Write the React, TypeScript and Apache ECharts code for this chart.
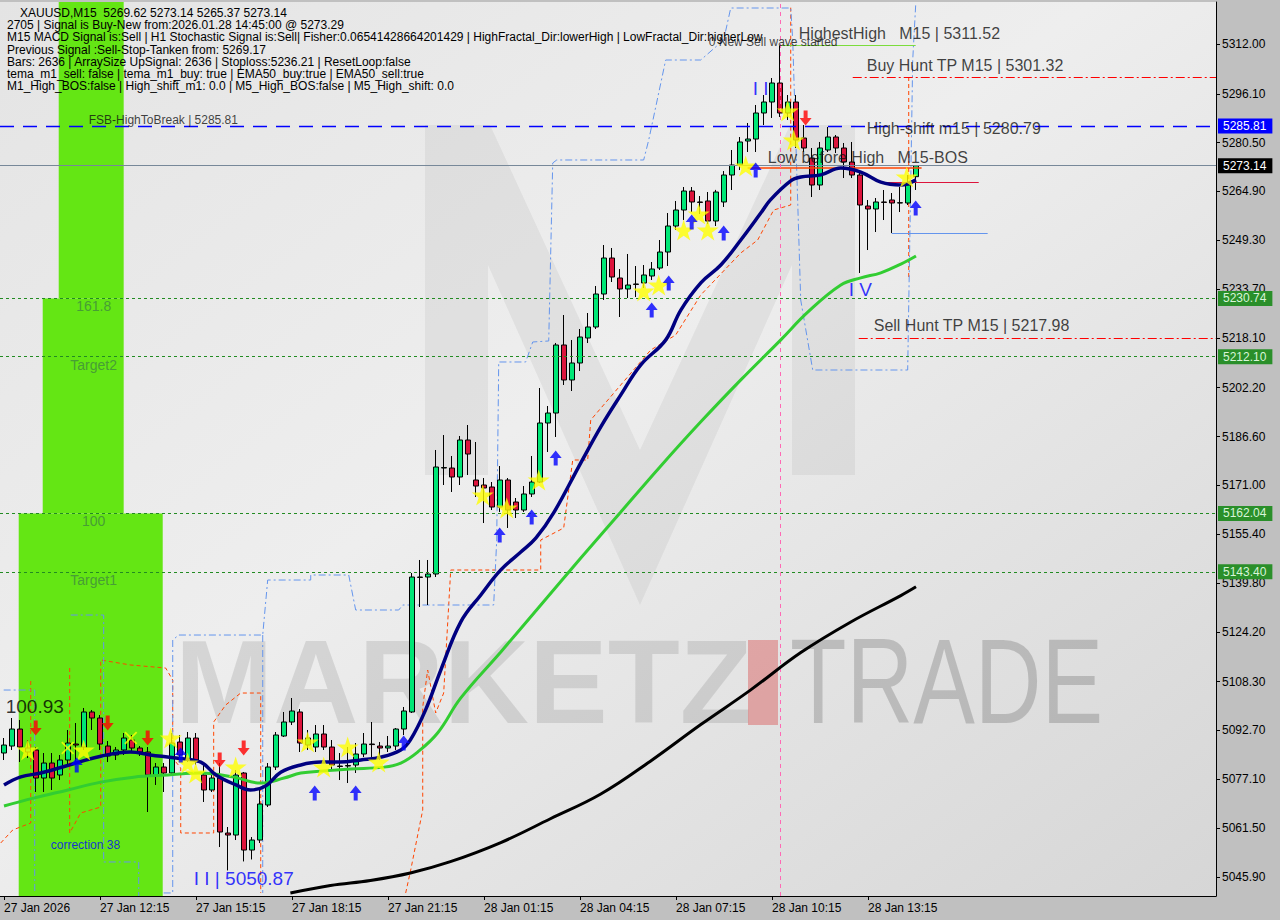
import React, { useEffect, useRef } from 'react';
import * as echarts from 'echarts';

const FONT = '"Liberation Sans", Arial, sans-serif';

// ---- candles (27 Jan 09:15 .. 28 Jan 14:45, M15) ----
const opens = [5085.51,5087.74,5093.17,5085.83,5086.47,5077.52,5082.31,5078.48,5083.27,5088.38,5087.42,5098.61,5096.69,5087.74,5084.87,5086.47,5089.66,5087.10,5085.83,5078.48,5081.03,5079.12,5089.02,5083.27,5090.30,5078.48,5073.69,5077.52,5059.95,5059.31,5079.12,5054.51,5057.71,5068.90,5081.03,5090.94,5095.41,5098.61,5088.06,5087.42,5091.58,5087.42,5081.35,5081.35,5081.67,5085.19,5088.38,5087.74,5087.10,5087.74,5093.17,5098.61,5141.73,5141.73,5142.69,5176.55,5176.55,5173.68,5185.50,5172.72,5171.12,5170.49,5164.09,5172.72,5165.69,5163.13,5168.25,5172.08,5190.93,5194.12,5215.85,5204.67,5210.10,5218.08,5221.60,5232.14,5243.64,5237.25,5233.74,5235.33,5235.65,5237.89,5240.44,5245.55,5253.86,5258.97,5265.04,5261.53,5261.85,5255.46,5261.53,5270.15,5273.35,5281.01,5281.65,5289.96,5293.47,5299.54,5289.96,5293.47,5281.97,5275.59,5266.96,5278.14,5282.29,5278.78,5274.31,5270.15,5260.25,5259.29,5261.53,5262.17,5261.21,5261.21,5269.62];
const closes = [5088.06,5093.17,5087.42,5087.10,5077.52,5082.31,5077.52,5083.27,5088.70,5088.06,5098.61,5096.69,5088.38,5084.55,5086.47,5090.30,5087.10,5085.83,5078.48,5081.03,5079.12,5088.70,5084.87,5090.30,5083.27,5073.69,5077.52,5060.27,5059.31,5078.48,5054.51,5057.71,5069.22,5081.03,5091.26,5095.41,5098.93,5088.70,5090.30,5091.58,5087.42,5081.67,5081.20,5081.50,5085.19,5088.38,5088.20,5087.10,5087.74,5093.17,5098.93,5141.73,5141.60,5142.69,5176.87,5176.70,5173.68,5185.50,5181.02,5170.80,5170.17,5164.09,5172.72,5163.13,5163.13,5168.25,5172.08,5190.93,5194.12,5215.85,5204.67,5210.10,5218.40,5221.60,5232.14,5243.64,5237.57,5233.74,5235.01,5235.20,5238.21,5240.12,5245.55,5253.86,5258.97,5265.04,5261.53,5261.40,5255.46,5264.72,5270.15,5273.35,5280.70,5281.65,5289.96,5293.47,5299.54,5289.96,5293.47,5281.33,5278.78,5266.96,5278.78,5282.29,5278.78,5274.31,5270.15,5260.57,5259.29,5261.53,5261.40,5261.21,5261.30,5266.96,5273.14];
const lows = [5083.27,5086.47,5082.63,5083.91,5073.05,5073.05,5073.69,5076.88,5081.67,5082.31,5086.47,5092.86,5086.47,5082.63,5083.27,5084.87,5085.83,5084.55,5066.66,5075.29,5073.05,5078.48,5083.27,5082.63,5081.67,5069.86,5073.05,5055.47,5048.00,5057.71,5050.87,5051.50,5056.75,5068.26,5080.08,5090.62,5094.45,5085.83,5086.47,5085.83,5086.47,5080.08,5076.88,5075.92,5079.12,5084.23,5084.23,5083.27,5085.83,5086.47,5091.26,5098.29,5132.15,5132.79,5141.73,5171.12,5168.89,5171.12,5174.32,5167.29,5158.98,5163.13,5162.50,5157.39,5160.58,5162.50,5167.29,5171.76,5181.67,5186.46,5203.07,5201.15,5207.54,5216.48,5220.96,5230.22,5235.97,5224.79,5230.86,5231.18,5234.06,5236.61,5239.81,5241.08,5252.58,5255.77,5258.33,5257.69,5254.50,5253.86,5259.93,5265.36,5271.74,5277.50,5277.50,5286.12,5288.37,5288.69,5287.73,5278.78,5277.50,5263.12,5265.36,5277.50,5277.18,5269.19,5269.19,5238.85,5246.19,5251.94,5255.77,5251.63,5258.33,5260.57,5265.37];
const highs = [5090.30,5096.69,5096.05,5089.66,5087.42,5085.51,5085.51,5084.87,5092.86,5095.09,5099.89,5099.25,5097.65,5089.34,5087.42,5091.90,5091.26,5087.74,5087.42,5082.31,5082.31,5091.90,5091.26,5092.22,5091.90,5081.67,5079.44,5082.31,5061.87,5080.08,5079.44,5058.67,5073.69,5082.31,5092.22,5098.61,5103.08,5099.57,5092.86,5094.45,5094.45,5089.66,5085.51,5087.42,5088.70,5091.90,5095.41,5089.02,5090.94,5093.49,5100.21,5143.01,5147.17,5147.17,5182.31,5187.09,5180.39,5186.78,5190.29,5184.86,5173.36,5172.08,5177.19,5173.36,5166.97,5170.80,5180.39,5202.11,5196.36,5216.50,5225.43,5217.44,5220.96,5226.07,5234.70,5247.79,5246.83,5240.12,5244.92,5241.08,5241.40,5242.36,5249.39,5258.01,5261.85,5266.32,5266.32,5263.44,5264.72,5265.40,5271.42,5278.14,5282.29,5286.77,5292.52,5295.71,5301.14,5311.52,5295.71,5295.71,5286.12,5278.78,5280.70,5285.49,5282.93,5280.38,5280.70,5271.74,5262.17,5262.80,5265.36,5264.40,5266.32,5270.15,5273.14];

const SLOT_COUNT = 152;
const tickIndex = [0, 12, 24, 36, 48, 60, 72, 84, 96, 108];
const tickText = ['27 Jan 2026','27 Jan 12:15','27 Jan 15:15','27 Jan 18:15','27 Jan 21:15','28 Jan 01:15','28 Jan 04:15','28 Jan 07:15','28 Jan 10:15','28 Jan 13:15'];
const yTicks = [5045.9,5061.5,5077.1,5092.7,5108.3,5124.2,5139.8,5155.4,5171.0,5186.6,5202.2,5218.1,5233.7,5249.3,5264.9,5280.5,5296.1,5312.0];
const Y_MIN = 5039.83;
const Y_MAX = 5325.42;

// ---- indicator lines [barIndex, price] ----
const navyEma = [[0,5075.3],[2.1,5077.9],[4.6,5079.1],[9,5082.3],[12.1,5084.5],[15.8,5085.8],[18.3,5084.9],[21.5,5083.9],[24.6,5082.6],[26.5,5078.5],[29,5075.3],[30.8,5073.7],[32.7,5075.0],[34.6,5079.4],[37.1,5081.7],[39.6,5082.6],[42,5082.6],[44.6,5083.3],[47.1,5084.2],[49.6,5086.5],[50.8,5089.7],[52.7,5099.3],[54.6,5112.0],[57.1,5127.4],[59.6,5136.0],[62.1,5144.0],[64.6,5149.7],[66.5,5154.2],[68.7,5162.2],[72.1,5178.2],[74.6,5189.7],[77.1,5199.9],[79.6,5209.5],[82.7,5217.4],[84.6,5227.0],[87.1,5235.7],[89.6,5241.4],[92.1,5249.4],[94.6,5258.0],[95.8,5262.2],[98.3,5268.2],[99.6,5269.5],[102.1,5270.2],[104.6,5272.4],[107.1,5271.1],[109.6,5267.9],[112.1,5267.0],[114,5268.6]];
const greenEma = [[0,5068.6],[3.7,5071.1],[8,5073.7],[12.1,5076.2],[16.2,5077.8],[20.5,5078.5],[24.6,5079.1],[28.7,5077.8],[32.1,5075.9],[35,5077.5],[37.1,5079.1],[40,5079.8],[43.3,5080.4],[47.5,5081.0],[49.6,5082.3],[51.7,5085.8],[54.2,5091.9],[57.1,5103.1],[62.1,5117.8],[67.1,5132.8],[72.1,5147.8],[77.1,5162.5],[82.1,5177.2],[87.1,5191.3],[92.1,5204.7],[97.1,5217.5],[100.5,5226.4],[104.6,5235.0],[107.1,5237.3],[109.6,5238.9],[112.1,5241.7],[114,5244.3]];
const blackEma = [[35.8,5040.8],[40.8,5043.2],[45.8,5044.8],[50.8,5047.2],[55.8,5050.8],[62.1,5056.9],[68.3,5064.5],[74.6,5072.4],[80.8,5082.9],[87.1,5094.6],[93.3,5105.6],[99.6,5117.6],[105.8,5127.3],[112.1,5135.8],[114,5138.6]];

const orangePaths = [
  [[-0.41,5056.77],[1.09,5060.92],[3.34,5063.15],[3.34,5108.83]],
  [[8.21,5112.66],[8.21,5059.96],[9.59,5066.35],[12.09,5068.26],[12.09,5115.22],[15.84,5113.62],[20.21,5112.66],[21.09,5108.83],[21.09,5083.91],[22.09,5080.72],[22.09,5059.96],[26.21,5059.96],[26.21,5095.41],[27.71,5100.85],[29.59,5104.67],[32.09,5104.67],[32.09,5040.80]],
  [[50.21,5040.80],[50.84,5048.14],[52.34,5067.31],[52.34,5100.20],[52.96,5112.02],[53.96,5098.29],[54.96,5104.67],[55.84,5143.97],[67.09,5143.97],[67.09,5153.56],[69.96,5157.39],[71.09,5179.11],[72.96,5179.11],[73.34,5191.89],[77.09,5203.07],[80.84,5214.25],[83.96,5219.04],[87.09,5231.82],[92.09,5245.23],[94.21,5249.39],[96.21,5258.97],[98.34,5260.57],[98.34,5324.5]],
  [[113.09,5301.46],[113.09,5236.62]],
];
const bluePaths = [
  [[-0.04,5105.63],[3.84,5105.63],[3.84,5040.80]],
  [[8.34,5129.59],[12.46,5129.59],[12.46,5050.70],[16.84,5050.70],[16.84,5039.83]],
  [[19.96,5040.80],[21.09,5040.80],[21.09,5121.61],[21.84,5123.20],[32.34,5123.20],[32.96,5140.77],[38.34,5140.77],[38.34,5142.37],[43.09,5142.37],[43.96,5131.19],[49.34,5131.19],[49.84,5132.79],[61.21,5132.79],[61.59,5153.56],[61.84,5210.42],[65.21,5210.42],[66.09,5216.81],[68.09,5217.13],[68.59,5273.99],[69.09,5274.95],[79.96,5274.95],[80.59,5281.33],[82.71,5306.89],[87.09,5306.89],[89.96,5313.28],[90.84,5323.50],[98.34,5323.50],[98.59,5313.28],[99.59,5230.22],[101.09,5207.86],[112.96,5207.86],[113.59,5306.89],[113.96,5324.46]],
  [[32.34,5123.20],[32.34,5040.80]],
];

// ---- signals ----
const stars = [[2.96,5086.47],[9.96,5086.47],[20.84,5090.30],[22.96,5082.31],[23.96,5079.12],[28.96,5081.03],[37.96,5089.02],[39.96,5081.03],[42.96,5087.42],[46.84,5082.63],[59.84,5167.93],[62.84,5163.78],[66.84,5172.72],[79.96,5233.10],[81.84,5235.01],[84.96,5252.58],[86.84,5257.69],[87.96,5252.58],[92.71,5273.03],[97.96,5290.59],[98.71,5281.33],[112.84,5269.51]];
const crossMarks = [[7.96,5087.10],[15.85,5090.30]];
const downArrows = [[3.96,5093.49],[12.96,5095.09],[17.96,5090.30],[26.96,5083.27],[29.96,5087.10],[100.2,5288.37]];
const upArrows = [[9.09,5081.67],[22.09,5084.87],[38.84,5072.74],[43.96,5072.74],[49.96,5088.70],[61.96,5155.15],[65.96,5160.90],[68.96,5179.74],[80.96,5227.03],[83.09,5235.65],[85.96,5255.14],[89.96,5251.63],[93.96,5271.74],[113.96,5259.61]];

// ---- levels ----
const fsbHigh = 5285.81;
const lastPrice = 5273.14;
const greenLevels = [5230.74, 5212.10, 5162.04, 5143.40];
const buyHuntTP = 5301.32;
const sellHuntTP = 5217.98;
const lowBeforeHigh = 5272.39;
const crimsonLevel = 5267.82;
const lightBlueLevel = 5251.53;
const highestHigh = 5311.52;
const highestBar = 97.04;

// fib zones [fromBar, toBar, top, bottom]
const fibRects = [
  [6.84, 14.96, Y_MAX, 5230.74],
  [4.84, 14.96, 5230.74, 5162.04],
  [1.84, 19.84, 5162.04, Y_MIN],
];
const fibTexts = [
  { name: '161.8', value: [11.21, 5228.3] },
  { name: 'Target2', value: [11.21, 5209.46] },
  { name: '100', value: [11.21, 5159.62] },
  { name: 'Target1', value: [11.21, 5140.78] },
];

const leftTexts = [
  { name: 'HighestHigh   M15 | 5311.52', value: [99.34, 5315.5], size: 16, color: '#111' },
  { name: '0 New Sell wave started', value: [88.09, 5312.64], size: 12, color: '#111' },
  { name: 'Buy Hunt TP M15 | 5301.32', value: [107.84, 5305.29], size: 16, color: '#111' },
  { name: 'High-shift m15 | 5280.79', value: [107.84, 5284.85], size: 16, color: '#111' },
  { name: 'Low before High   M15-BOS', value: [95.46, 5275.9], size: 16, color: '#111' },
  { name: 'Sell Hunt TP M15 | 5217.98', value: [108.71, 5221.92], size: 16, color: '#111' },
  { name: 'FSB-HighToBreak | 5285.81', value: [10.59, 5287.72], size: 12, color: '#111' },
  { name: '100.93', value: [0.21, 5100.52], size: 19, color: '#000' },
  { name: 'I I | 5050.87', value: [23.71, 5045.57], size: 19, color: '#0000ff' },
  { name: 'I I', value: [93.59, 5297.94], size: 19, color: '#0000ff' },
  { name: 'I V', value: [105.59, 5233.42], size: 19, color: '#0000ff' },
  { name: 'correction 38', value: [5.84, 5056.1], size: 12, color: '#0000ff' },
];

const headerLines = [
  'XAUUSD,M15  5269.62 5273.14 5265.37 5273.14',
  '2705 | Signal is Buy-New from:2026.01.28 14:45:00 @ 5273.29',
  'M15 MACD Signal is:Sell | H1 Stochastic Signal is:Sell| Fisher:0.06541428664201429 | HighFractal_Dir:lowerHigh | LowFractal_Dir:higherLow',
  'Previous Signal :Sell-Stop-Tanken from: 5269.17',
  'Bars: 2636 | ArraySize UpSignal: 2636 | Stoploss:5236.21 | ResetLoop:false',
  'tema_m1_sell: false | tema_m1_buy: true | EMA50_buy:true | EMA50_sell:true',
  'M1_High_BOS:false | High_shift_m1: 0.0 | M5_High_BOS:false | M5_High_shift: 0.0',
];

const STAR = 'path://M50,0 L61,35 L98,35 L68,57 L79,91 L50,70 L21,91 L32,57 L2,35 L39,35 Z';
const CROSS = 'path://M0,2 L2,0 L10,8 L18,0 L20,2 L12,10 L20,18 L18,20 L10,12 L2,20 L0,18 L8,10 Z';
const ARROW = 'path://M6,0 L12,7 L8,7 L8,14 L4,14 L4,7 L0,7 Z';

function priceBox(v: number, bg: string, fg: string) {
  return {
    show: true, position: 'end', distance: 2, formatter: v.toFixed(2),
    backgroundColor: bg, color: fg, padding: [2, 6, 1, 5], fontSize: 12, fontFamily: FONT,
  };
}

export default function App() {
  const ref = useRef<HTMLDivElement>(null);
  useEffect(() => {
    if (!ref.current) return;
    const chart = echarts.init(ref.current, undefined, { renderer: 'svg' });
    const cats = Array.from({ length: SLOT_COUNT }, (_, i) => String(i));
    const tickSet = new Set(tickIndex);
    const tickMap = new Map(tickIndex.map((t, i) => [t, tickText[i]]));
    const candleData = opens.map((o, i) => [o, closes[i], lows[i], highs[i]]);

    const noLabel = { show: false };
    const markLines: any[] = [
      { yAxis: fsbHigh, lineStyle: { color: '#0000ff', type: [14, 9], width: 1.3 }, label: priceBox(fsbHigh, '#0000ff', '#ffffff') },
      { yAxis: lastPrice, lineStyle: { color: '#778899', type: 'solid', width: 1 }, label: priceBox(lastPrice, '#000000', '#ffffff') },
      ...greenLevels.map((g) => ({ yAxis: g, lineStyle: { color: '#228b22', type: [3, 3], width: 1 }, label: priceBox(g, '#2a8f2a', '#d8f5d8') })),
      [{ coord: [106.09, buyHuntTP], lineStyle: { color: '#ff0000', type: [9, 3, 2, 3], width: 1 }, label: noLabel }, { coord: [151.5, buyHuntTP] }],
      [{ coord: [106.84, sellHuntTP], lineStyle: { color: '#ff0000', type: [9, 3, 2, 3], width: 1 }, label: noLabel }, { coord: [151.5, sellHuntTP] }],
      [{ coord: [92.96, lowBeforeHigh], lineStyle: { color: '#ff4500', type: 'solid', width: 1.5 }, label: noLabel }, { coord: [114.7, lowBeforeHigh] }],
      [{ coord: [109.96, crimsonLevel], lineStyle: { color: '#dc143c', type: 'solid', width: 1 }, label: noLabel }, { coord: [121.84, crimsonLevel] }],
      [{ coord: [110.96, lightBlueLevel], lineStyle: { color: '#6495ed', type: 'solid', width: 1 }, label: noLabel }, { coord: [122.96, lightBlueLevel] }],
      [{ coord: [97.09, highestHigh], lineStyle: { color: '#7cdc3c', type: 'solid', width: 1 }, label: noLabel }, { coord: [113.96, highestHigh] }],
      { xAxis: highestBar, lineStyle: { color: '#ff69b4', type: [4, 4], width: 1 }, label: noLabel },
    ];

    const pathSeries = (paths: number[][][], color: string, type: any) =>
      paths.map((p) => ({
        type: 'line', xAxisIndex: 1, yAxisIndex: 0, data: p, symbol: 'none', silent: true, z: 3,
        lineStyle: { color, width: 1, type }, clip: true,
      }));

    const option: any = {
      animation: false,
      backgroundColor: '#c0c0c0',
      grid: {
        left: 0, right: 64, top: 2, bottom: 24, show: true, borderWidth: 0,
        backgroundColor: new echarts.graphic.LinearGradient(0, 0, 1, 1, [
          { offset: 0, color: '#e4e4e4' },
          { offset: 0.45, color: '#eeeeee' },
          { offset: 1, color: '#d6d6d6' },
        ]),
      },
      xAxis: [
        {
          type: 'category', data: cats, boundaryGap: true,
          axisLine: { show: true, onZero: false, lineStyle: { color: '#000' } },
          axisTick: { show: true, interval: (i: number) => tickSet.has(i), alignWithLabel: true, length: 4, lineStyle: { color: '#000' } },
          axisLabel: {
            interval: (i: number) => tickSet.has(i),
            formatter: (_v: string, i: number) => tickMap.get(i) ?? '',
            align: 'left', color: '#000', fontSize: 12, fontFamily: FONT, margin: 6,
          },
          splitLine: { show: false },
        },
        { type: 'value', min: -0.5, max: 151.5, show: false, axisLine: { onZero: false } },
      ],
      yAxis: {
        type: 'value', position: 'right', min: Y_MIN, max: Y_MAX,
        splitLine: { show: false },
        axisLine: { show: true, onZero: false, lineStyle: { color: '#000' } },
        axisTick: { show: true, inside: false, customValues: yTicks, length: 4, lineStyle: { color: '#000' } },
        axisLabel: { customValues: yTicks, formatter: (v: number) => v.toFixed(2), color: '#000', fontSize: 12, fontFamily: FONT, margin: 6 },
      },
      graphic: [
        { type: 'polygon', silent: true, z: 1, shape: { points: [[425,125],[490,125],[640,450],[790,125],[855,125],[855,475],[792,475],[792,265],[640,605],[488,265],[488,475],[425,475]] }, style: { fill: 'rgba(0,0,0,0.05)' } },
        { type: 'text', silent: true, z: 1, x: 175, y: 682, style: { text: 'MARKETZ', fill: 'rgba(0,0,0,0.1)', fontSize: 118, fontWeight: 'bold', fontFamily: FONT, verticalAlign: 'middle' } },
        { type: 'rect', silent: true, z: 1, shape: { x: 748, y: 640, width: 30, height: 85 }, style: { fill: 'rgba(215,60,60,0.38)' } },
        { type: 'text', silent: true, z: 1, x: 790, y: 682, scaleX: 0.77, style: { text: 'TRADE', fill: 'rgba(0,0,0,0.17)', fontSize: 120, fontFamily: FONT, verticalAlign: 'middle' } },
        ...headerLines.map((t, i) => ({
          type: 'text', silent: true, z: 100, x: i === 0 ? 20 : 7, y: 13 + i * 12.2,
          style: { text: t, fill: '#000', fontSize: 12, fontFamily: FONT, verticalAlign: 'middle' },
        })),
      ],
      series: [
        {
          type: 'custom', xAxisIndex: 1, yAxisIndex: 0, data: fibRects, z: 1, silent: true, clip: true,
          encode: { x: [0, 1], y: [2, 3] },
          renderItem: (_p: any, api: any) => {
            const a = api.coord([api.value(0), api.value(2)]);
            const b = api.coord([api.value(1), api.value(3)]);
            return { type: 'rect', shape: { x: a[0], y: a[1], width: b[0] - a[0], height: b[1] - a[1] }, style: { fill: '#64e614' } };
          },
        },
        {
          type: 'candlestick', xAxisIndex: 0, yAxisIndex: 0, data: candleData, barWidth: 6, z: 4,
          itemStyle: { color: '#00e676', color0: '#dc143c', borderColor: '#000', borderColor0: '#000', borderWidth: 1 },
        },
        ...pathSeries(orangePaths, '#ff4500', [4, 3]),
        ...pathSeries(bluePaths, '#6495ed', [7, 3, 2, 3]),
        { type: 'line', xAxisIndex: 1, data: blackEma, symbol: 'none', smooth: 0.4, z: 5, lineStyle: { color: '#000', width: 3 }, markLine: { silent: true, symbol: ['none', 'none'], data: markLines } },
        { type: 'line', xAxisIndex: 1, data: greenEma, symbol: 'none', smooth: 0.4, z: 5, lineStyle: { color: '#32cd32', width: 3 } },
        { type: 'line', xAxisIndex: 1, data: navyEma, symbol: 'none', smooth: 0.4, z: 5, lineStyle: { color: '#000080', width: 3.5 } },
        { type: 'scatter', xAxisIndex: 1, data: stars, symbol: STAR, symbolSize: [22, 21], z: 6, itemStyle: { color: '#ffff00' } },
        { type: 'scatter', xAxisIndex: 1, data: crossMarks, symbol: CROSS, symbolSize: [13, 13], z: 6, itemStyle: { color: '#ffff00' } },
        { type: 'scatter', xAxisIndex: 1, data: upArrows, symbol: ARROW, symbolSize: [12, 15], z: 6, itemStyle: { color: '#0000ff' } },
        { type: 'scatter', xAxisIndex: 1, data: downArrows, symbol: ARROW, symbolRotate: 180, symbolSize: [12, 15], z: 6, itemStyle: { color: '#ff0000' } },
        {
          type: 'scatter', xAxisIndex: 1, z: 7, clip: false, symbolSize: 0.1, itemStyle: { color: 'transparent' },
          data: fibTexts.map((t) => ({ name: t.name, value: t.value })),
          label: { show: true, position: 'inside', formatter: '{b}', color: '#3f8a3f', fontSize: 14, fontFamily: FONT },
        },
        {
          type: 'scatter', xAxisIndex: 1, z: 7, clip: false, symbolSize: 0.1, itemStyle: { color: 'transparent' },
          data: leftTexts.map((t) => ({
            name: t.name, value: t.value,
            label: { show: true, position: 'right', distance: 0, formatter: '{b}', color: t.color, fontSize: t.size, fontFamily: FONT },
          })),
        },
      ],
    };
    chart.setOption(option);
    return () => chart.dispose();
  }, []);
  return <div ref={ref} style={{ position: 'fixed', left: 0, top: 0, width: 1280, height: 920 }} />;
}
